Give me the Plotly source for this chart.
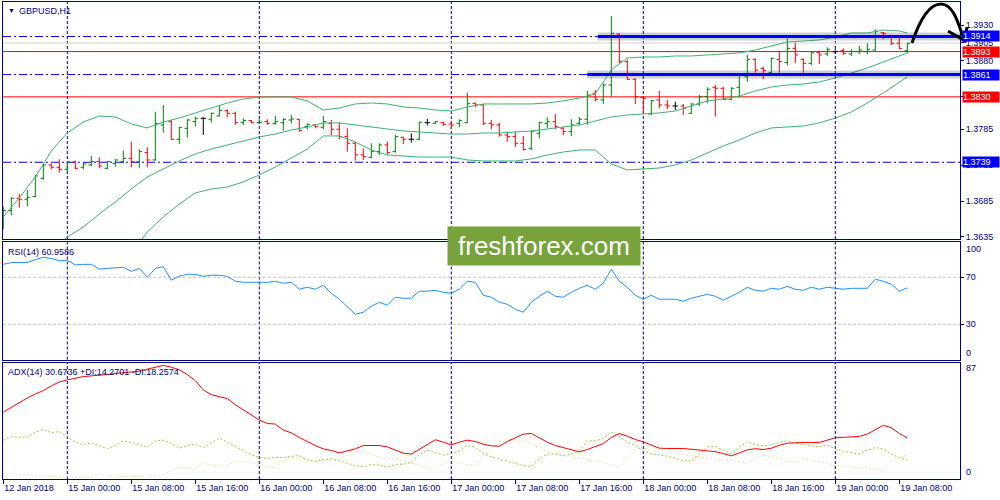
import plotly.graph_objects as go

# ---------------- data ----------------
bar_index = list(range(114))
opens = [1.36633, 1.36717, 1.36889, 1.36875, 1.36912, 1.37167, 1.37352, 1.37320, 1.37292, 1.37394,
         1.37320, 1.37352, 1.37399, 1.37306, 1.37375, 1.37399, 1.37445, 1.37399, 1.37524, 1.37422,
         1.37909, 1.37955, 1.37709, 1.37862, 1.37955, 1.38002, 1.37988, 1.38034, 1.38108, 1.38071,
         1.37941, 1.37969, 1.37941, 1.37955, 1.37932, 1.37941, 1.37978, 1.37988, 1.37886, 1.37909,
         1.37877, 1.37932, 1.37849, 1.37747, 1.37654, 1.37492, 1.37459, 1.37538, 1.37631, 1.37538,
         1.37737, 1.37710, 1.37710, 1.37941, 1.37932, 1.37941, 1.37923, 1.37932, 1.37941, 1.38210,
         1.38187, 1.37932, 1.37909, 1.37770, 1.37747, 1.37654, 1.37584, 1.37793, 1.37932, 1.37955,
         1.37863, 1.37816, 1.37932, 1.37988, 1.38350, 1.38257, 1.38465, 1.39175, 1.38790, 1.38544,
         1.38294, 1.38062, 1.38257, 1.38187, 1.38173, 1.38173, 1.38071, 1.38201, 1.38303, 1.38433,
         1.38419, 1.38266, 1.38433, 1.38581, 1.38822, 1.38697, 1.38637, 1.38822, 1.38776, 1.38975,
         1.38822, 1.38767, 1.38915, 1.38897, 1.38929, 1.38943, 1.38897, 1.38929, 1.38929, 1.38952,
         1.39193, 1.39129, 1.39045, 1.38943]
highs = [1.36773, 1.36902, 1.36949, 1.37004, 1.37213, 1.37366, 1.37375, 1.37431, 1.37399, 1.37413,
         1.37385, 1.37478, 1.37459, 1.37404, 1.37431, 1.37552, 1.37677, 1.37570, 1.37598, 1.38094,
         1.38187, 1.37978, 1.37880, 1.37988, 1.38025, 1.38016, 1.38080, 1.38173, 1.38127, 1.38094,
         1.38002, 1.37978, 1.37988, 1.37988, 1.38034, 1.38002, 1.38048, 1.37992, 1.37932, 1.37918,
         1.38034, 1.37979, 1.37946, 1.37863, 1.37677, 1.37584, 1.37654, 1.37654, 1.37677, 1.37770,
         1.37747, 1.37793, 1.37955, 1.37992, 1.37965, 1.37955, 1.37946, 1.37988, 1.38359, 1.38220,
         1.38201, 1.37979, 1.37941, 1.37816, 1.37816, 1.37756, 1.37830, 1.37955, 1.38016, 1.38062,
         1.37877, 1.37988, 1.38016, 1.38387, 1.38396, 1.38488, 1.39425, 1.39184, 1.38822, 1.38558,
         1.38303, 1.38257, 1.38386, 1.38257, 1.38233, 1.38201, 1.38210, 1.38326, 1.38433, 1.38465,
         1.38442, 1.38433, 1.38628, 1.38883, 1.38836, 1.38720, 1.38850, 1.38929, 1.39115, 1.39054,
         1.38836, 1.38929, 1.38929, 1.38989, 1.38962, 1.38975, 1.38962, 1.39008, 1.39045, 1.39240,
         1.39207, 1.39161, 1.39129, 1.39054]
lows = [1.36457, 1.36657, 1.36759, 1.36773, 1.36902, 1.37144, 1.37292, 1.37246, 1.37260, 1.37292,
        1.37292, 1.37338, 1.37306, 1.37292, 1.37329, 1.37375, 1.37320, 1.37306, 1.37320, 1.37413,
        1.37802, 1.37700, 1.37645, 1.37737, 1.37886, 1.37770, 1.37941, 1.38025, 1.38016, 1.37909,
        1.37909, 1.37932, 1.37923, 1.37909, 1.37909, 1.37830, 1.37932, 1.37816, 1.37849, 1.37863,
        1.37849, 1.37770, 1.37710, 1.37538, 1.37413, 1.37422, 1.37445, 1.37492, 1.37492, 1.37524,
        1.37645, 1.37663, 1.37700, 1.37900, 1.37923, 1.37895, 1.37849, 1.37877, 1.37932, 1.38155,
        1.37909, 1.37849, 1.37747, 1.37677, 1.37598, 1.37552, 1.37561, 1.37723, 1.37863, 1.37849,
        1.37770, 1.37756, 1.37909, 1.37909, 1.38234, 1.38201, 1.38303, 1.38767, 1.38535, 1.38201,
        1.38071, 1.38048, 1.38141, 1.38127, 1.38117, 1.38048, 1.38062, 1.38173, 1.38210, 1.38025,
        1.38257, 1.38257, 1.38294, 1.38512, 1.38637, 1.38544, 1.38604, 1.38637, 1.38744, 1.38767,
        1.38637, 1.38744, 1.38758, 1.38869, 1.38897, 1.38883, 1.38869, 1.38897, 1.38897, 1.38943,
        1.39101, 1.39022, 1.38962, 1.38906]
closes = [1.36717, 1.36889, 1.36875, 1.36902, 1.37199, 1.37352, 1.37320, 1.37292, 1.37394, 1.37306,
          1.37366, 1.37399, 1.37338, 1.37399, 1.37422, 1.37445, 1.37399, 1.37538, 1.37422, 1.37932,
          1.37955, 1.37709, 1.37876, 1.37978, 1.38002, 1.38002, 1.38071, 1.38108, 1.38071, 1.37941,
          1.37969, 1.37941, 1.37946, 1.37932, 1.37955, 1.37988, 1.37992, 1.37830, 1.37918, 1.37886,
          1.37955, 1.37849, 1.37747, 1.37654, 1.37492, 1.37468, 1.37538, 1.37631, 1.37524, 1.37747,
          1.37710, 1.37710, 1.37946, 1.37941, 1.37955, 1.37918, 1.37909, 1.37969, 1.38210, 1.38187,
          1.37932, 1.37909, 1.37770, 1.37747, 1.37654, 1.37570, 1.37816, 1.37941, 1.37955, 1.37886,
          1.37816, 1.37909, 1.37988, 1.38326, 1.38266, 1.38465, 1.39184, 1.38790, 1.38544, 1.38303,
          1.38280, 1.38247, 1.38187, 1.38173, 1.38173, 1.38141, 1.38201, 1.38303, 1.38405, 1.38419,
          1.38266, 1.38419, 1.38604, 1.38822, 1.38674, 1.38665, 1.38836, 1.38790, 1.38975, 1.38883,
          1.38767, 1.38915, 1.38883, 1.38962, 1.38929, 1.38906, 1.38929, 1.38952, 1.38962, 1.39207,
          1.39184, 1.39045, 1.38975, 1.39045]

bb_upper_bars = list(range(0, 113, 2)) + [113]
bb_upper = [1.36629, 1.36893, 1.37185, 1.37547, 1.37797, 1.37950, 1.38034, 1.38020, 1.37923, 1.37867,
            1.37950, 1.38006, 1.38076, 1.38145, 1.38215, 1.38270, 1.38298, 1.38298, 1.38298, 1.38243,
            1.38117, 1.38145, 1.38201, 1.38215, 1.38201, 1.38159, 1.38145, 1.38117, 1.38103, 1.38159,
            1.38201, 1.38201, 1.38201, 1.38201, 1.38215, 1.38243, 1.38284, 1.38340, 1.38674, 1.38841,
            1.38855, 1.38855, 1.38869, 1.38869, 1.38883, 1.38897, 1.38911, 1.38952, 1.39008, 1.39064,
            1.39077, 1.39091, 1.39133, 1.39189, 1.39189, 1.39230, 1.39217, 1.39189]
bb_middle_bars = list(range(6, 113, 2)) + [113]
bb_middle = [1.36183, 1.36350, 1.36489, 1.36670, 1.36837, 1.37018, 1.37185, 1.37296, 1.37408, 1.37505,
             1.37575, 1.37630, 1.37686, 1.37742, 1.37783, 1.37839, 1.37881, 1.37937, 1.37937, 1.37909,
             1.37881, 1.37853, 1.37825, 1.37811, 1.37797, 1.37783, 1.37783, 1.37797, 1.37797, 1.37811,
             1.37825, 1.37853, 1.37881, 1.37909, 1.37964, 1.38020, 1.38048, 1.38062, 1.38076, 1.38103,
             1.38173, 1.38243, 1.38270, 1.38312, 1.38382, 1.38437, 1.38465, 1.38479, 1.38507, 1.38563,
             1.38632, 1.38702, 1.38785, 1.38869, 1.38911]
bb_lower_bars = list(range(16, 113, 2)) + [113]
bb_lower = [1.36114, 1.36420, 1.36629, 1.36809, 1.36963, 1.37018, 1.37046, 1.37116, 1.37213, 1.37324,
            1.37450, 1.37575, 1.37756, 1.37756, 1.37672, 1.37561, 1.37491, 1.37477, 1.37463, 1.37463,
            1.37463, 1.37422, 1.37408, 1.37408, 1.37408, 1.37436, 1.37491, 1.37533, 1.37561, 1.37561,
            1.37366, 1.37283, 1.37296, 1.37310, 1.37352, 1.37422, 1.37519, 1.37617, 1.37700, 1.37797,
            1.37867, 1.37881, 1.37895, 1.37937, 1.38006, 1.38090, 1.38215, 1.38354, 1.38507, 1.38577]

rsi = [81, 82.5, 82.5, 82.5, 85, 87, 86, 84, 84.5, 80.5,
       81, 81, 77, 77.5, 78, 78.5, 75, 77.5, 70, 77.5,
       79, 67.5, 71, 72.5, 72.5, 70.8, 71.7, 71.7, 70.8, 66.6,
       65.7, 65.7, 65.7, 65.7, 66.6, 64.9, 65.7, 59.8, 61.5, 59.8,
       63.2, 56.4, 51.3, 44.5, 38.5, 40.2, 45.3, 48.7, 46.2, 53.0,
       52.1, 52.1, 58.1, 58.1, 58.9, 57.2, 56.4, 59.8, 66.6, 65.7,
       54.7, 53.0, 48.7, 47.0, 42.8, 40.2, 48.7, 53.8, 58.1, 53.8,
       53.0, 57.2, 60.6, 63.2, 59.8, 64.9, 76.8, 66.6, 61.5, 54.7,
       51.3, 54.7, 51.3, 51.3, 51.3, 49.6, 52.1, 53.8, 55.5, 53.8,
       50.4, 53.8, 57.2, 61.5, 58.9, 58.1, 60.6, 59.8, 62.3, 59.8,
       58.9, 61.5, 59.8, 61.5, 60.6, 59.8, 60.6, 60.6, 60.6, 68.3,
       66.6, 64.0, 58.1, 60.96]

adx = [50.0, 53.5, 57.2, 60.5, 63.5, 66, 69.5, 72.5, 74, 75.5,
       76.5, 77, 77.3, 78, 78.8, 79.2, 79.8, 80.5, 82, 83.5,
       84.8, 83.5, 81.5, 78, 73.5, 66.5, 63, 61.5, 60, 55.5,
       51.5, 47.5, 44, 41.5, 41, 36.5, 34.5, 31, 27.7, 25,
       22.5, 21.3, 19.5, 21, 22.5, 25, 25, 25, 24, 21.5,
       19.3, 18.6, 22, 26, 29.3, 27.5, 25.5, 27.5, 29.0, 28,
       26, 24.8, 24.5, 28, 31, 33.5, 34, 30.5, 27.5, 25,
       23.5, 21.5, 20.3, 22, 24.5, 26.5, 31, 34, 32, 29.5,
       27.7, 25.5, 23, 22.8, 22.8, 22.8, 22.2, 21.6, 21, 20.4,
       19, 17.3, 19.5, 21.8, 22.6, 22, 23, 25.2, 26.7, 27.1,
       27.3, 27.3, 27.3, 29, 30.8, 31.1, 31.4, 31.8, 33.5, 36.8,
       40.1, 38.3, 34, 30.67]
plus_di = [29, 31.5, 31.3, 31, 35, 37, 34.5, 35.5, 31.5, 27.5,
           25.5, 27, 24.8, 22.5, 25, 28.3, 27.3, 25.5, 24, 28.5,
           29, 26.5, 23, 25, 26, 23.5, 27, 30.5, 27.5, 24.5,
           21, 18, 16, 15.4, 16.3, 15.8, 17, 17.5, 14.1, 13.3,
           14.5, 15, 13.5, 11.5, 10, 9.2, 10.7, 10.5, 8.7, 11,
           11, 12.5, 18, 21.5, 20, 17.8, 19, 21, 25.3, 23.5,
           19.5, 16.5, 14.8, 13, 11.8, 10, 9.2, 15, 18.6, 18.6,
           17.5, 18.5, 21, 28.5, 28.5, 30.5, 35, 32, 27.5, 25,
           21, 18.5, 18, 17, 15.3, 13.8, 13.3, 19, 24, 24.3,
           21.5, 18.8, 24, 27.8, 25.7, 24.8, 25.8, 27, 28.7, 26.5,
           25.5, 25, 24, 25.3, 22.5, 20.8, 19.8, 18.6, 21.6, 23.5,
           22.5, 18.5, 16, 14.27]
minus_di = [4.2, 3.7, 3.2, 2.7, 2.2, 1.9, 1.7, 1.6, 1.5, 1.4,
            1.3, 1.3, 3.5, 2.5, 2.0, 1.8, 1.7, 1.7, 1.7, 2.5,
            3.2, 6.5, 8.7, 8, 7.2, 12.1, 10.5, 9.8, 10.2, 13.5,
            13, 12, 11, 9.7, 8, 13, 16.5, 14.5, 15, 13,
            13.8, 15.2, 14.5, 17.5, 20, 21, 18, 16, 15.4, 14.6,
            14, 12, 10, 8.7, 7, 12, 14.5, 11.8, 10.8, 10.5,
            17.5, 23, 26, 29.5, 29.5, 28.3, 26.5, 23.5, 20.8, 19.3,
            17.5, 16.5, 15.6, 14.8, 13.8, 12.5, 10, 9, 15, 22,
            24, 19.5, 18.8, 19.5, 19.8, 18.3, 17.3, 16.7, 15.8, 14.3,
            14.1, 14.1, 13.3, 12.1, 15, 17.8, 16.5, 15.2, 13, 12.5,
            15.2, 14.3, 13, 11.5, 10.3, 9.6, 9.1, 8.7, 8.2, 7.2,
            6.2, 12.5, 15.5, 18.26]

x_tick_bars = list(range(0, 113, 8))
x_tick_text = ["12 Jan 2018", "15 Jan 00:00", "15 Jan 08:00", "15 Jan 16:00", "16 Jan 00:00",
               "16 Jan 08:00", "16 Jan 16:00", "17 Jan 00:00", "17 Jan 08:00", "17 Jan 16:00",
               "18 Jan 00:00", "18 Jan 08:00", "18 Jan 16:00", "19 Jan 00:00", "19 Jan 08:00"]
day_separator_bars = [8, 32, 56, 80, 104]
price_tick_vals = [1.3930, 1.3905, 1.3880, 1.3830, 1.3785, 1.3735, 1.3685, 1.3635]
blue_levels = [1.3914, 1.3861, 1.3739]
red_levels = [1.3893, 1.3830]
bid_level = 1.3905
trend_levels = [1.3914, 1.3861]
trend_start_bars = [74.3, 73.0]
rsi_levels = [70, 30]
rsi_value_text = "RSI(14) 60.9586"
adx_value_text = "ADX(14) 30.6736 +DI:14.2701 -DI:18.2574"

# ---------------- layout helpers ----------------
NAVY = "#000080"
GREEN = "#008000"
RED = "#ff0000"
BLUE = "#0000ff"
BAND = "#3cb371"
FONT = "Liberation Sans, Arial, sans-serif"
W, H = 1000, 500
ML, MR, MT, MB = 3, 40, 2, 21
PW, PH = W - ML - MR, H - MT - MB


def px(xp):
    return (xp - ML) / PW


def py(yp):
    return (H - MB - yp) / PH


XR = [-0.0375, 119.5875]
fig = go.Figure()

up = [i for i in bar_index if closes[i] > opens[i]]
dn = [i for i in bar_index if closes[i] < opens[i]]
dj = [i for i in bar_index if closes[i] == opens[i]]
for sel, col in ((up, GREEN), (dn, RED), (dj, "#000000")):
    fig.add_trace(go.Ohlc(
        x=[bar_index[i] for i in sel], open=[opens[i] for i in sel], high=[highs[i] for i in sel],
        low=[lows[i] for i in sel], close=[closes[i] for i in sel],
        increasing=dict(line=dict(color=col, width=1)), decreasing=dict(line=dict(color=col, width=1)),
        tickwidth=0.35, xaxis="x", yaxis="y", hoverinfo="skip", showlegend=False))

for bx, by in ((bb_upper_bars, bb_upper), (bb_middle_bars, bb_middle), (bb_lower_bars, bb_lower)):
    fig.add_trace(go.Scatter(x=bx, y=by, mode="lines", line=dict(color=BAND, width=1),
                             xaxis="x", yaxis="y", hoverinfo="skip", showlegend=False))

fig.add_trace(go.Scatter(x=bar_index, y=rsi, mode="lines", line=dict(color="#1e90ff", width=1),
                         xaxis="x2", yaxis="y2", hoverinfo="skip", showlegend=False))
fig.add_trace(go.Scatter(x=bar_index, y=minus_di, mode="lines", line=dict(color="#f5deb3", width=1, dash="2px,2px"),
                         xaxis="x3", yaxis="y3", hoverinfo="skip", showlegend=False))
fig.add_trace(go.Scatter(x=bar_index, y=plus_di, mode="lines", line=dict(color="#9acd32", width=1, dash="2px,2px"),
                         xaxis="x3", yaxis="y3", hoverinfo="skip", showlegend=False))
fig.add_trace(go.Scatter(x=bar_index, y=adx, mode="lines", line=dict(color=RED, width=1),
                         xaxis="x3", yaxis="y3", hoverinfo="skip", showlegend=False))

box = dict(showline=True, linecolor=NAVY, linewidth=1, mirror=True, showgrid=False, zeroline=False)
ytick = dict(side="right", ticks="outside", ticklen=3, tickcolor=NAVY, tickfont=dict(size=9, color=NAVY))

shapes = []
for xa, ya in (("x", "y"), ("x2", "y2"), ("x3", "y3")):
    for b in day_separator_bars:
        shapes.append(dict(type="line", xref=xa, yref=ya + " domain", x0=b, x1=b, y0=0, y1=1,
                           line=dict(color=NAVY, width=1, dash="3px,2px"), layer="below"))
for lv in rsi_levels:
    shapes.append(dict(type="line", xref="x2 domain", yref="y2", x0=0, x1=1, y0=lv, y1=lv,
                       line=dict(color="#c0c0c0", width=1, dash="3px,2px"), layer="below"))
shapes.append(dict(type="line", xref="x domain", yref="y", x0=0, x1=1, y0=bid_level, y1=bid_level,
                   line=dict(color="#d3d3d3", width=1), layer="below"))
for lv in red_levels:
    shapes.append(dict(type="line", xref="x domain", yref="y", x0=0, x1=1, y0=lv, y1=lv,
                       line=dict(color=RED, width=1), layer="below"))
for lv in blue_levels:
    end = XR[1]
    for tl, tb in zip(trend_levels, trend_start_bars):
        if tl == lv:
            end = tb
    shapes.append(dict(type="line", xref="x", yref="y", x0=XR[0], x1=end, y0=lv, y1=lv,
                       line=dict(color=BLUE, width=1, dash="8px,3px,2px,3px"), layer="below"))
for tl, tb in zip(trend_levels, trend_start_bars):
    shapes.append(dict(type="line", xref="x", yref="y", x0=tb, x1=XR[1], y0=tl, y1=tl,
                       line=dict(color="rgba(60,60,110,0.25)", width=8)))
    shapes.append(dict(type="line", xref="x", yref="y", x0=tb, x1=XR[1], y0=tl, y1=tl,
                       line=dict(color=BLUE, width=3)))


def pt(a, b):
    return f"{px(a):.5f},{py(b):.5f}"


arrow_path = ("M " + pt(912, 43) + " C " + pt(918, 25) + " " + pt(928, 4) + " " + pt(941, 4)
              + " C " + pt(953, 4) + " " + pt(958, 22) + " " + pt(964, 40))
head_path = "M " + pt(948, 31) + " L " + pt(965, 41) + " L " + pt(967, 27)
for p in (arrow_path, head_path):
    shapes.append(dict(type="path", xref="paper", yref="paper", path=p,
                       line=dict(color="#000000", width=3)))

annotations = []


def label(x, y, text, size=9, color=NAVY, **kw):
    annotations.append(dict(x=px(x), y=py(y), xref="paper", yref="paper", text=text, showarrow=False,
                            xanchor="left", yanchor="middle", font=dict(family=FONT, size=size, color=color), **kw))


label(6, 11, "▼", size=7)
label(17, 11, "GBPUSD,H1")
label(6, 252, rsi_value_text)
label(6, 372, adx_value_text)
label(964, 249, "100")
label(964, 353, "0")
label(964, 368, "87")
label(964, 472, "0")

for lv, col in [(blue_levels[0], BLUE), (red_levels[0], RED), (blue_levels[1], BLUE),
                (red_levels[1], RED), (blue_levels[2], BLUE)]:
    annotations.append(dict(x=px(962), y=lv, xref="paper", yref="y", text=f"{lv:.4f}", showarrow=False,
                            xanchor="left", yanchor="middle", bgcolor=col, width=36, height=10,
                            align="left", borderpad=0,
                            font=dict(family=FONT, size=9, color="#ffffff")))

annotations.append(dict(x=px(544), y=py(246), xref="paper", yref="paper", text="freshforex.com",
                        showarrow=False, xanchor="center", yanchor="middle", bgcolor="#78a33c",
                        width=190, height=36, font=dict(family="Liberation Sans, Arial", size=26, color="#ffffff")))

fig.update_layout(
    width=W, height=H, margin=dict(l=ML, r=MR, t=MT, b=MB, pad=0),
    paper_bgcolor="white", plot_bgcolor="white", showlegend=False,
    font=dict(family=FONT, size=9, color=NAVY),
    xaxis=dict(domain=[0, 1], anchor="y", range=XR, showticklabels=False, ticks="",
               rangeslider=dict(visible=False), **box),
    xaxis2=dict(domain=[0, 1], anchor="y2", range=XR, showticklabels=False, ticks="", **box),
    xaxis3=dict(domain=[0, 1], anchor="y3", range=XR, tickmode="array", tickvals=x_tick_bars,
                ticktext=x_tick_text, ticks="outside", ticklen=4, tickcolor=NAVY,
                ticklabelposition="outside right", tickfont=dict(size=9, color=NAVY), **box),
    yaxis=dict(domain=[py(239), py(2)], anchor="x", range=[1.36322, 1.39620], tickmode="array",
               tickvals=price_tick_vals, ticktext=[f"{v:.4f}" for v in price_tick_vals], **ytick, **box),
    yaxis2=dict(domain=[py(359.5), py(242)], anchor="x2", range=[0, 100], tickmode="array",
                tickvals=rsi_levels, ticktext=[str(v) for v in rsi_levels], **ytick, **box),
    yaxis3=dict(domain=[0, py(362.5)], anchor="x3", range=[0, 87], tickmode="array",
                tickvals=[], **ytick, **box),
    shapes=shapes, annotations=annotations,
)

fig.write_html("out.html", config={"displayModeBar": False},
               post_script="document.body.style.margin='0';document.body.style.padding='0';"
                           "document.body.style.overflow='hidden';")
